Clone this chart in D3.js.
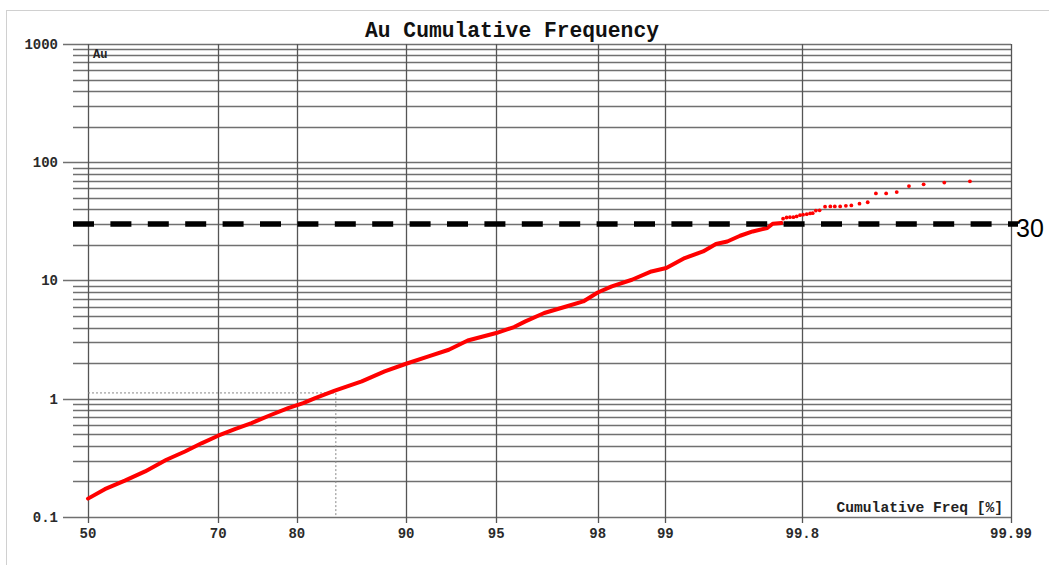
<!DOCTYPE html>
<html>
<head>
<meta charset="utf-8">
<script src="https://cdn.jsdelivr.net/npm/d3@7"></script>
<style>
  html, body { margin: 0; padding: 0; background: #fff; }
  svg { display: block; }
  .mono { font-family: "Liberation Mono", "Courier New", monospace; font-weight: bold; }
</style>
</head>
<body>
<svg id="chart" width="1049" height="565"></svg>
<script>
// ---------- DATA ----------
const chartTitle = "Au Cumulative Frequency";
const seriesName = "Au";
const xAxisLabel = "Cumulative Freq [%]";
const xTickLabels = [50, 70, 80, 90, 95, 98, 99, 99.8, 99.99];
const yTickLabels = [0.1, 1, 10, 100, 1000];

// dense part of the curve (cumulative frequency %, Au value)
const denseFreq = [50.0, 52.7, 55.9, 59.1, 62.4, 65.2, 67.7, 70.0, 72.3, 74.5, 77.0, 79.0, 80.7,
  82.0, 84.0, 86.5, 88.4, 90.0, 91.5, 92.7, 93.7, 95.0, 95.7, 96.1, 96.7, 97.3, 97.7, 98.0,
  98.26, 98.58, 98.84, 99.01, 99.19, 99.34, 99.43, 99.50, 99.57, 99.63, 99.69, 99.71, 99.74];
const denseAu = [0.143, 0.172, 0.203, 0.243, 0.305, 0.358, 0.422, 0.487, 0.554, 0.623, 0.732, 0.834, 0.920,
  1.014, 1.169, 1.401, 1.702, 1.977, 2.279, 2.597, 3.112, 3.594, 4.04, 4.51, 5.31, 6.03, 6.65, 7.92,
  8.91, 10.15, 11.93, 12.74, 15.48, 17.61, 20.33, 21.39, 23.9, 26.0, 27.8, 30.2, 30.6];

// sparse upper tail (individual samples)
const tailFreq = [99.745, 99.756, 99.766, 99.776, 99.785, 99.794, 99.802, 99.811, 99.819, 99.825,
  99.832, 99.840, 99.851, 99.861, 99.869, 99.878, 99.887, 99.895, 99.906, 99.916, 99.925, 99.935,
  99.944, 99.953, 99.962, 99.972, 99.981];
const tailAu = [33.3, 34.1, 34.3, 34.3, 34.8, 35.7, 36.0, 36.4, 36.9, 37.1,
  39.0, 39.2, 42.1, 42.3, 42.3, 42.3, 42.8, 43.1, 44.6, 45.9, 54.5, 54.5,
  55.9, 62.9, 65.1, 67.3, 69.0];

// reference marks
const thresholdValue = 30;
const refFreq = 84.1;
const refAu = 1.12;

// ---------- HELPERS ----------
// inverse standard normal CDF (Acklam)
function probit(p) {
  const a = [-3.969683028665376e+01, 2.209460984245205e+02, -2.759285104469687e+02, 1.383577518672690e+02, -3.066479806614716e+01, 2.506628277459239e+00];
  const b = [-5.447609879822406e+01, 1.615858368580409e+02, -1.556989798598866e+02, 6.680131188771972e+01, -1.328068155288572e+01];
  const c = [-7.784894002430293e-03, -3.223964580411365e-01, -2.400758277161838e+00, -2.549732539343734e+00, 4.374664141464968e+00, 2.938163982698783e+00];
  const d = [7.784695709041462e-03, 3.224671290700398e-01, 2.445134137471128e+00, 3.754408661907416e+00];
  const plow = 0.02425, phigh = 1 - plow;
  let q, r;
  if (p < plow) {
    q = Math.sqrt(-2 * Math.log(p));
    return (((((c[0]*q+c[1])*q+c[2])*q+c[3])*q+c[4])*q+c[5]) / ((((d[0]*q+d[1])*q+d[2])*q+d[3])*q+1);
  } else if (p <= phigh) {
    q = p - 0.5; r = q*q;
    return (((((a[0]*r+a[1])*r+a[2])*r+a[3])*r+a[4])*r+a[5])*q / (((((b[0]*r+b[1])*r+b[2])*r+b[3])*r+b[4])*r+1);
  } else {
    q = Math.sqrt(-2 * Math.log(1 - p));
    return -(((((c[0]*q+c[1])*q+c[2])*q+c[3])*q+c[4])*q+c[5]) / ((((d[0]*q+d[1])*q+d[2])*q+d[3])*q+1);
  }
}

// ---------- LAYOUT ----------
const plotLeft = 88, plotRight = 1011, plotTop = 44, plotBottom = 517;
const svg = d3.select("#chart");

// outer frame
svg.append("rect").attr("x", 6.5).attr("y", 10.5).attr("width", 1100).attr("height", 600)
  .attr("fill", "none").attr("stroke", "#d0d0d0").attr("stroke-width", 1);

const zScale = d3.scaleLinear().domain([probit(0.5), probit(0.9999)]).range([plotLeft, plotRight]);
const x = p => zScale(probit(p / 100));
const y = d3.scaleLog().domain([0.1, 1000]).range([plotBottom, plotTop]);

// horizontal grid
const yGrid = y.ticks();
const isMajor = v => Math.abs(Math.log10(v) - Math.round(Math.log10(v))) < 1e-9;
svg.append("g").selectAll("line").data(yGrid).join("line")
  .attr("x1", d => isMajor(d) ? 63 : 73)
  .attr("x2", plotRight)
  .attr("y1", d => Math.round(y(d)) + 0.5)
  .attr("y2", d => Math.round(y(d)) + 0.5)
  .attr("stroke", "#707070").attr("stroke-width", 1.3);

// vertical grid
svg.append("g").selectAll("line").data(xTickLabels).join("line")
  .attr("x1", d => Math.round(x(d)) + 0.5)
  .attr("x2", d => Math.round(x(d)) + 0.5)
  .attr("y1", plotTop).attr("y2", plotBottom + 6)
  .attr("stroke", "#555").attr("stroke-width", 1.3);

// y tick labels
svg.append("g").selectAll("text").data(yTickLabels).join("text")
  .attr("class", "mono")
  .attr("x", 58).attr("y", d => y(d)).attr("dy", "0.35em")
  .attr("text-anchor", "end").attr("font-size", 14).attr("fill", "#2a2a2a")
  .text(d => d3.format("~g")(d));

// x tick labels
svg.append("g").selectAll("text").data(xTickLabels).join("text")
  .attr("class", "mono")
  .attr("x", d => x(d)).attr("y", 538)
  .attr("text-anchor", "middle").attr("font-size", 14).attr("fill", "#2a2a2a")
  .text(d => d);

// title
svg.append("text").attr("class", "mono")
  .attr("x", 512).attr("y", 37).attr("text-anchor", "middle")
  .attr("font-size", 21.3).attr("fill", "#111").text(chartTitle);

// series label
svg.append("text").attr("class", "mono")
  .attr("x", 93).attr("y", 58).attr("font-size", 12).attr("fill", "#222").text(seriesName);

// axis label
svg.append("text").attr("class", "mono")
  .attr("x", 1003).attr("y", 512).attr("text-anchor", "end")
  .attr("font-size", 14.6).attr("fill", "#222").text(xAxisLabel);

// reference dotted lines
svg.append("path")
  .attr("d", `M${plotLeft},${y(refAu)}H${x(refFreq)}V${plotBottom}`)
  .attr("fill", "none").attr("stroke", "#888").attr("stroke-width", 1)
  .attr("stroke-dasharray", "2,2");

// dense curve
const dense = denseFreq.map((f, i) => [f, denseAu[i]]);
svg.append("path").datum(dense)
  .attr("d", d3.line().x(d => x(d[0])).y(d => y(d[1])))
  .attr("fill", "none").attr("stroke", "#ff0000").attr("stroke-width", 4)
  .attr("stroke-linejoin", "round").attr("stroke-linecap", "round");

// tail points
const tail = tailFreq.map((f, i) => [f, tailAu[i]]);
svg.append("g").selectAll("circle").data(tail).join("circle")
  .attr("cx", d => x(d[0])).attr("cy", d => y(d[1])).attr("r", 1.9)
  .attr("fill", "#ff0000");

// threshold dashed line
svg.append("line")
  .attr("x1", 73).attr("x2", 1018)
  .attr("y1", y(thresholdValue)).attr("y2", y(thresholdValue))
  .attr("stroke", "#000").attr("stroke-width", 5.5)
  .attr("stroke-dasharray", "21,16.4");

svg.append("text")
  .attr("x", 1016).attr("y", y(thresholdValue) + 13)
  .attr("font-family", "'Liberation Sans', Arial, sans-serif")
  .attr("font-size", 25).attr("fill", "#000").text(thresholdValue);
</script>
</body>
</html>
